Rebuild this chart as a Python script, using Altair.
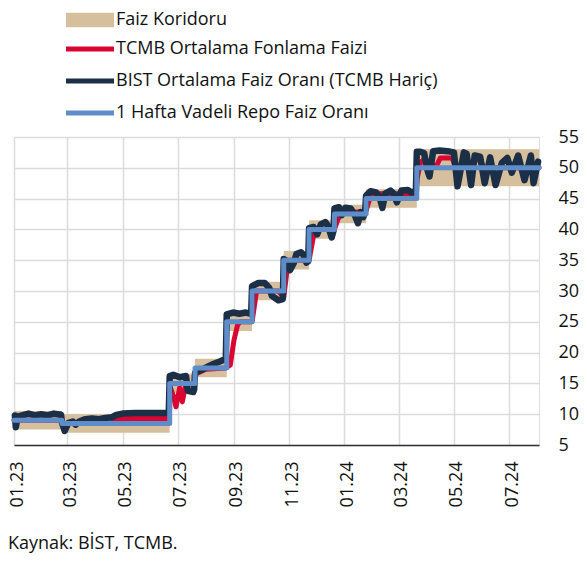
import altair as alt
import pandas as pd

FONT = "Open Sans"
TAN = "#D5BF9C"
RED = "#DA0530"
NAVY = "#1B2F47"
BLUE = "#5E8DCA"

corridor_name = "Faiz Koridoru"
line_names = ["TCMB Ortalama Fonlama Faizi", "BIST Ortalama Faiz Oranı (TCMB Hariç)", "1 Hafta Vadeli Repo Faiz Oranı"]

x_ticks = ["2023-01-01", "2023-03-01", "2023-05-01", "2023-07-01", "2023-09-01", "2023-11-01",
           "2024-01-01", "2024-03-01", "2024-05-01", "2024-07-01"]
y_ticks = [5, 10, 15, 20, 25, 30, 35, 40, 45, 50, 55]

corridor_dates = ["2023-01-01", "2023-02-23", "2023-06-22", "2023-07-20", "2023-08-24", "2023-09-21",
                  "2023-10-26", "2023-11-23", "2023-12-21", "2024-01-25", "2024-03-21", "2024-08-03"]
corridor_low = [7.5, 7, 13.5, 16, 23.5, 28.5, 33.5, 38.5, 41, 43.5, 47, 47]
corridor_high = [10.5, 10, 16.5, 19, 26.5, 31.5, 36.5, 41.5, 44, 46.5, 53, 53]

repo_dates = ["2023-01-01", "2023-02-23", "2023-06-22", "2023-07-20", "2023-08-24", "2023-09-21",
              "2023-10-26", "2023-11-23", "2023-12-21", "2024-01-25", "2024-03-21", "2024-08-03"]
repo_values = [9, 8.5, 15, 17.5, 25, 30, 35, 40, 42.5, 45, 50, 50]

tcmb_dates = ["2023-01-01", "2023-02-22", "2023-02-23", "2023-04-19", "2023-04-21", "2023-06-21",
              "2023-06-22", "2023-06-26", "2023-06-29", "2023-07-03", "2023-07-06", "2023-07-10",
              "2023-07-19", "2023-07-20", "2023-08-01", "2023-08-23", "2023-08-28", "2023-09-01",
              "2023-09-05", "2023-09-08", "2023-09-21", "2023-09-26", "2023-10-20", "2023-10-26",
              "2023-10-31", "2023-11-23", "2023-11-28", "2023-12-01", "2023-12-21", "2023-12-27",
              "2024-01-25", "2024-01-29", "2024-02-02", "2024-03-20", "2024-03-21", "2024-03-25",
              "2024-03-29", "2024-04-03", "2024-04-12", "2024-04-16", "2024-04-29", "2024-05-03",
              "2024-05-22", "2024-05-25", "2024-05-30", "2024-06-03", "2024-08-03"]
tcmb_values = [9, 9, 8.5, 8.5, 9.3, 9.3,
               14.6, 13.0, 11.2, 14.3, 12.0, 15.0,
               15.0, 16.5, 17.3, 17.5, 18.0, 22.0,
               24.5, 25.0, 25.0, 30.0, 30.0, 29.0,
               35.0, 35.0, 39.0, 40.0, 40.0, 42.5,
               43.0, 45.0, 45.8, 45.8, 48.0, 50.8,
               51.4, 50.2, 50.4, 51.6, 51.6, 50.0,
               50.2, 51.3, 51.3, 50.0, 50.0]

bist_dates = ["2023-01-02", "2023-01-03", "2023-01-05", "2023-01-10", "2023-01-17", "2023-01-24",
              "2023-01-31", "2023-02-07", "2023-02-14", "2023-02-22", "2023-02-23", "2023-02-26",
              "2023-03-02", "2023-03-07", "2023-03-10", "2023-03-14", "2023-03-21", "2023-03-28",
              "2023-04-05", "2023-04-12", "2023-04-19", "2023-04-24", "2023-05-01", "2023-05-15",
              "2023-06-01", "2023-06-15", "2023-06-21", "2023-06-22", "2023-06-26", "2023-07-03",
              "2023-07-10", "2023-07-12", "2023-07-18", "2023-07-19", "2023-07-20", "2023-07-27",
              "2023-08-03", "2023-08-10", "2023-08-17", "2023-08-23", "2023-08-24", "2023-08-31",
              "2023-09-07", "2023-09-14", "2023-09-20", "2023-09-21", "2023-09-28", "2023-10-05",
              "2023-10-10", "2023-10-13", "2023-10-20", "2023-10-25", "2023-10-26", "2023-10-30",
              "2023-11-02", "2023-11-06", "2023-11-09", "2023-11-14", "2023-11-17", "2023-11-20",
              "2023-11-22", "2023-11-23", "2023-11-28", "2023-12-02", "2023-12-06", "2023-12-11",
              "2023-12-14", "2023-12-18", "2023-12-20", "2023-12-21", "2023-12-26", "2023-12-29",
              "2024-01-02", "2024-01-08", "2024-01-12", "2024-01-16", "2024-01-19", "2024-01-22",
              "2024-01-24", "2024-01-25", "2024-01-30", "2024-02-05", "2024-02-09", "2024-02-12",
              "2024-02-15", "2024-02-21", "2024-02-24", "2024-02-28", "2024-03-04", "2024-03-11",
              "2024-03-15", "2024-03-20", "2024-03-21", "2024-03-25", "2024-03-29", "2024-04-02",
              "2024-04-04", "2024-04-08", "2024-04-15", "2024-04-24", "2024-05-01", "2024-05-05",
              "2024-05-12", "2024-05-15", "2024-05-20", "2024-05-24", "2024-05-30", "2024-06-04",
              "2024-06-10", "2024-06-16", "2024-06-23", "2024-06-29", "2024-07-04", "2024-07-11",
              "2024-07-18", "2024-07-25", "2024-07-28", "2024-08-02"]
bist_values = [9.8, 7.9, 9.6, 9.8, 10.1, 9.8,
               10.0, 9.8, 10.1, 9.9, 8.6, 7.3,
               8.6, 8.8, 8.3, 8.8, 9.2, 9.3,
               9.2, 9.4, 9.5, 9.9, 10.1, 10.2,
               10.2, 10.2, 10.2, 16.2, 16.4, 16.0,
               16.2, 13.8, 13.6, 14.0, 16.7, 17.2,
               17.7, 18.2, 18.6, 19.0, 26.2, 26.5,
               26.3, 26.5, 26.3, 30.8, 31.3, 31.3,
               30.5, 29.2, 28.5, 28.7, 35.2, 34.8,
               33.4, 34.5, 36.0, 36.3, 35.8, 34.6,
               34.8, 40.2, 40.4, 39.2, 40.8, 41.2,
               40.5, 38.7, 39.8, 43.4, 43.6, 42.3,
               43.5, 43.4, 42.5, 41.0, 42.8, 42.0,
               43.2, 45.5, 46.2, 46.0, 45.2, 43.5,
               45.8, 46.3, 45.9, 44.4, 46.3, 46.4,
               46.0, 46.2, 52.6, 52.6, 52.4, 49.5,
               48.6, 52.7, 52.8, 52.7, 52.5, 47.0,
               52.5, 52.3, 47.2, 52.0, 51.8, 47.5,
               51.7, 47.2, 50.8, 51.6, 49.2, 52.0,
               48.0, 52.0, 47.5, 51.0]

corr_df = pd.DataFrame({"date": corridor_dates, "low": corridor_low, "high": corridor_high,
                        "series": corridor_name})
tcmb_df = pd.DataFrame({"date": tcmb_dates, "value": tcmb_values, "series": line_names[0]})
bist_df = pd.DataFrame({"date": bist_dates, "value": bist_values, "series": line_names[1]})
repo_df = pd.DataFrame({"date": repo_dates, "value": repo_values, "series": line_names[2]})


def dt(s):
    y, m, d = (int(p) for p in s.split("-"))
    return alt.DateTime(year=y, month=m, date=d, utc=True)


xscale = alt.Scale(type="utc", domain=[dt("2023-01-01"), dt("2024-08-03")])
yscale = alt.Scale(domain=[5, 55], nice=False)

xaxis = alt.Axis(values=[dt(s) for s in x_ticks], labelExpr="utcFormat(datum.value, '%m.%y')",
                 labelAngle=-90, grid=True, gridColor="#DCDCDC", gridWidth=1.5, ticks=False,
                 domain=True, domainColor="#333333", domainWidth=1.5, labelFont=FONT,
                 labelFontSize=18, labelColor="#111111", labelPadding=16, labelOffset=3, title=None)
yaxis = alt.Axis(orient="right", values=y_ticks, grid=True, gridColor="#DCDCDC", gridWidth=1.5,
                 ticks=False, domain=False, labelFont=FONT, labelFontSize=18, labelColor="#111111",
                 labelPadding=19, labelAlign="left", title=None)

fill_legend = alt.Legend(orient="none", legendX=67, legendY=-126, title=None,
                         symbolType="M-4,-1.2H4V1.2H-4Z", symbolSize=144, symbolStrokeWidth=0,
                         labelFont=FONT, labelFontSize=18, labelColor="#111111", labelOffset=17,
                         labelLimit=500)
stroke_legend = alt.Legend(orient="none", legendX=67, legendY=-97, title=None,
                           symbolType="M-4,0H4", symbolSize=144, symbolStrokeWidth=5,
                           labelFont=FONT, labelFontSize=18, labelColor="#111111", labelOffset=17,
                           labelLimit=500, rowPadding=12)

stroke_scale = alt.Scale(domain=line_names, range=[RED, NAVY, BLUE])

area = alt.Chart(corr_df).mark_area(interpolate="step-after").encode(
    x=alt.X("date:T", scale=xscale, axis=xaxis),
    y=alt.Y("low:Q", scale=yscale, axis=yaxis),
    y2="high:Q",
    fill=alt.Fill("series:N", scale=alt.Scale(domain=[corridor_name], range=[TAN]), legend=fill_legend),
)


def line_layer(df, width, interp):
    return alt.Chart(df).mark_line(strokeWidth=width, interpolate=interp, strokeCap="round",
                                   strokeJoin="round").encode(
        x=alt.X("date:T", scale=xscale, axis=xaxis),
        y=alt.Y("value:Q", scale=yscale, axis=yaxis),
        stroke=alt.Stroke("series:N", scale=stroke_scale, legend=stroke_legend),
    )


chart = alt.layer(
    area,
    line_layer(tcmb_df, 5, "linear"),
    line_layer(bist_df, 6.5, "linear"),
    line_layer(repo_df, 5, "step-after"),
).properties(
    width=525, height=308,
    autosize=alt.AutoSizeParams(type="none"),
    padding={"left": 6, "top": 129, "right": 40, "bottom": 110},
    title=alt.TitleParams("Kaynak: BİST, TCMB.", orient="bottom", anchor="start", font=FONT,
                          fontSize=18, fontWeight="normal", color="#111111", offset=28, dx=0),
).configure_view(stroke=None).configure(background="white")

chart.save("out.html", embed_options={"renderer": "svg", "actions": False})
